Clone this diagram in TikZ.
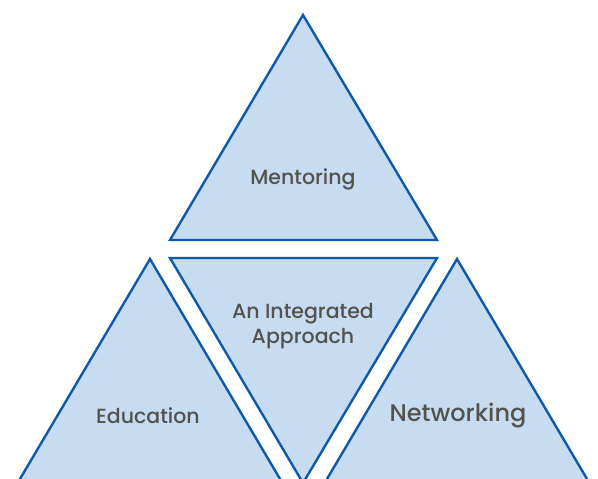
\documentclass[tikz,border=0pt]{standalone}
\usepackage{fontspec}
\setmainfont{Poppins}[UprightFont=* Medium]
\definecolor{triFill}{HTML}{C8DCF1}
\definecolor{triLine}{HTML}{0E5AAA}
\definecolor{lblGray}{HTML}{54524C}
\begin{document}
\begin{tikzpicture}[x=1pt,y=-1pt]
\tikzset{
  tri/.style={draw=triLine, fill=triFill, line width=2.4pt},
  lbl/.style={text=lblGray, font=\fontsize{20.5}{25}\selectfont, align=center}
}
\useasboundingbox (0,0) rectangle (598,479);
\clip (0,0) rectangle (598,479);

% -------- top (mentoring) ----------
\draw[tri] (303,15) -- (437,240) -- (170,240) -- cycle;
% -------- middle (upside down) ----------
\draw[tri] (170,258) -- (437,258) -- (303,483) -- cycle;
% -------- left ----------
\draw[tri] (150,259) -- (283,484) -- (17,484) -- cycle;
% -------- right ----------
\draw[tri] (457,259) -- (590,484) -- (324,484) -- cycle;

\node (mentoring) [lbl] at (303,179) {Mentoring};
\node (integrated) [lbl] at (303,326) {An Integrated\\Approach};
\node (education) [lbl] at (148,416) {Education};
\node (networking) [lbl, font=\fontsize{24}{28}\selectfont] at (458,416) {Networking};
\end{tikzpicture}
\end{document}
